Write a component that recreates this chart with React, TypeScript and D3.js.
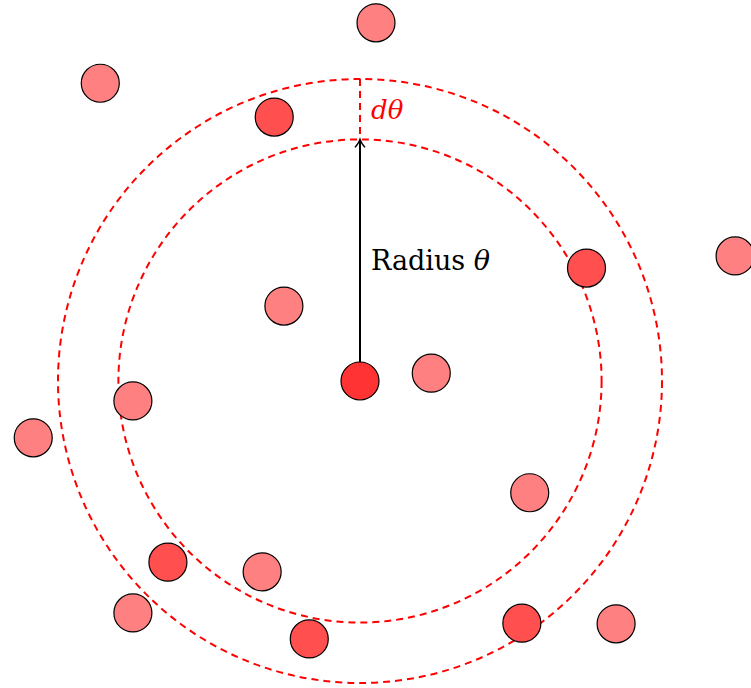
import React from "react";
import * as d3 from "d3";

// Data in model units (centre of the "Radius θ" disc at origin)
const pointX = [0.265, -4.3, -1.42, 3.75, 6.21, -1.26, 1.18, -3.76, -5.41, 2.81, -3.18, -1.62, -3.76, -0.84, 2.68, 4.24];
const pointY = [5.93, 4.93, 4.37, 1.87, 2.07, 1.24, 0.13, -0.33, -0.94, -1.85, -3.0, -3.16, -3.84, -4.27, -4.01, -4.02];
const innerRadius = 4; // θ
const outerRadius = 5; // θ + dθ
const labelShell = "dθ";

const W = 751;
const H = 688;
const cx = 360;
const cy = 381;
const unit = 60.4;

export default function App() {
  const x = d3.scaleLinear().domain([0, 1]).range([cx, cx + unit]);
  const y = d3.scaleLinear().domain([0, 1]).range([cy, cy - unit]);
  const len = (v: number) => x(v) - x(0);

  const pts = pointX.map((px, i) => {
    const r = Math.hypot(px, pointY[i]);
    const inShell = r >= innerRadius && r <= outerRadius;
    return { px, py: pointY[i], inShell };
  });

  return (
    <svg width={W} height={H} style={{ position: "absolute", left: 0, top: 0 }}>
      <rect width={W} height={H} fill="#fff" />
      <circle cx={x(0)} cy={y(0)} r={len(innerRadius)} fill="none" stroke="#ff0000" strokeWidth={2} strokeDasharray="7 5" />
      <circle cx={x(0)} cy={y(0)} r={len(outerRadius)} fill="none" stroke="#ff0000" strokeWidth={2} strokeDasharray="7 5" />
      <line x1={x(0)} y1={y(outerRadius)} x2={x(0)} y2={y(innerRadius)} stroke="#ff0000" strokeWidth={2} strokeDasharray="7 5" />
      <line x1={x(0)} y1={y(0)} x2={x(0)} y2={y(innerRadius) + 1} stroke="#000" strokeWidth={2} />
      <path
        d={`M${x(0) - 5},${y(innerRadius) + 8} Q${x(0) - 1},${y(innerRadius) + 3} ${x(0)},${y(innerRadius)} Q${x(0) + 1},${y(innerRadius) + 3} ${x(0) + 5},${y(innerRadius) + 8}`}
        fill="none"
        stroke="#000"
        strokeWidth={1.5}
      />
      {pts.map((p, i) => (
        <circle key={i} cx={x(p.px)} cy={y(p.py)} r={19} fill={p.inShell ? "#ff4f4f" : "#ff8080"} stroke="#000" strokeWidth={1.2} />
      ))}
      <circle cx={x(0)} cy={y(0)} r={19} fill="#ff3333" stroke="#000" strokeWidth={1.2} />
      <text x={x(0) + 11} y={y(0) - 111} fontFamily="DejaVu Serif" fontSize={27} fill="#000">
        Radius <tspan fontStyle="italic">θ</tspan>
      </text>
      <text x={x(0) + 11} y={y(innerRadius) - 20} fontFamily="DejaVu Serif" fontSize={26} fontStyle="italic" fill="#ff0000">
        {labelShell}
      </text>
    </svg>
  );
}
